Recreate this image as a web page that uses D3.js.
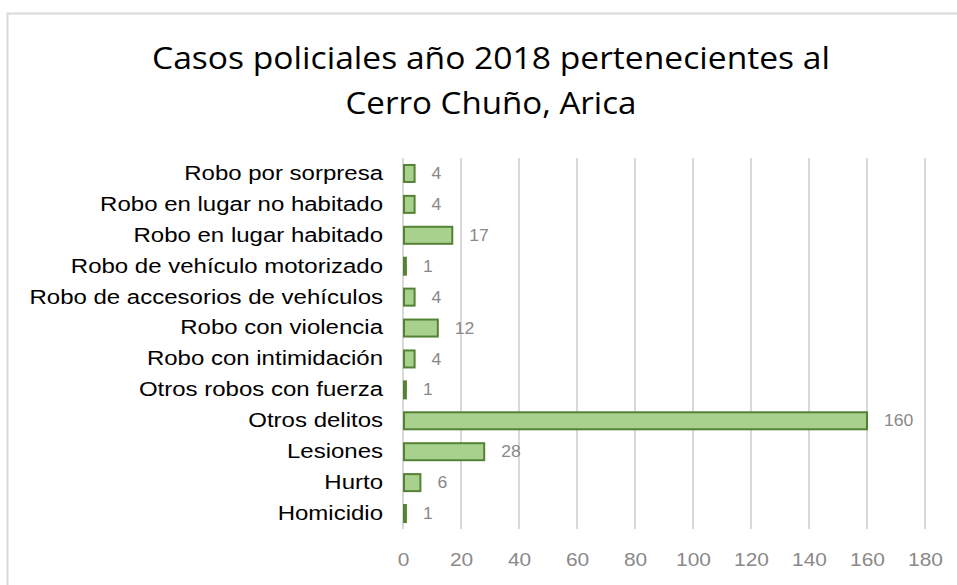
<!DOCTYPE html>
<html><head><meta charset="utf-8">
<script src="https://cdn.jsdelivr.net/npm/d3@7"></script>
<style>body{margin:0;background:#fff}svg{display:block}</style>
</head><body><svg id="c" width="957" height="585"></svg>
<script>
const categories = ["Robo por sorpresa","Robo en lugar no habitado","Robo en lugar habitado","Robo de vehículo motorizado","Robo de accesorios de vehículos","Robo con violencia","Robo con intimidación","Otros robos con fuerza","Otros delitos","Lesiones","Hurto","Homicidio"];
const values = [4,4,17,1,4,12,4,1,160,28,6,1];
const xTicks = [0,20,40,60,80,100,120,140,160,180];
const titleLines = ["Casos policiales año 2018 pertenecientes al","Cerro Chuño, Arica"];

const svg = d3.select("#c");
function stretch(sel, f){
  sel.each(function(){
    const w = this.getComputedTextLength();
    d3.select(this).attr("textLength", w*f).attr("lengthAdjust","spacingAndGlyphs");
  });
}
svg.append("rect").attr("x",7.5).attr("y",13.5).attr("width",960).attr("height",600)
  .attr("fill","#fff").attr("stroke","#d9d9d9").attr("stroke-width",2);

const x = d3.scaleLinear().domain([0,180]).range([403,925]);
const y = d3.scaleBand().domain(categories).range([158,529]).paddingInner(0.45).paddingOuter(0.225);

// gridlines
svg.append("g").selectAll("line").data(xTicks).join("line")
  .attr("x1",d=>x(d)).attr("x2",d=>x(d)).attr("y1",158).attr("y2",529)
  .attr("stroke","#d9d9d9").attr("stroke-width",2);

// x axis labels
const xa = svg.append("g").attr("transform","translate(0,529)")
  .call(d3.axisBottom(x).tickValues(xTicks).tickSize(0).tickPadding(24));
xa.select(".domain").remove();
xa.selectAll("text").attr("font-family","Liberation Sans, Arial, sans-serif").attr("font-size",19).attr("fill","#898989");
stretch(xa.selectAll("text"), 1.1);

// y axis labels
const ya = svg.append("g").attr("transform","translate(383,0)")
  .call(d3.axisLeft(y).tickSize(0).tickPadding(0));
ya.select(".domain").remove();
ya.selectAll("text").attr("font-family","Liberation Sans, Arial, sans-serif").attr("font-size",20).attr("fill","#000");
stretch(ya.selectAll("text"), 1.2);

// bars
svg.append("g").selectAll("rect").data(values).join("rect")
  .attr("x",x(0)+1).attr("y",(d,i)=>y(categories[i]))
  .attr("width",d=>x(d)-x(0)-1).attr("height",y.bandwidth())
  .attr("fill","#a9d18e").attr("stroke","#548235").attr("stroke-width",2);

// value labels
const vl = svg.append("g").selectAll("text").data(values).join("text")
  .attr("x",d=>x(d)+17).attr("y",(d,i)=>y(categories[i])+y.bandwidth()/2)
  .attr("dy","0.35em").attr("font-family","Liberation Sans, Arial, sans-serif")
  .attr("font-size",16).attr("fill","#898989").text(d=>d);
stretch(vl, 1.1);

// title
svg.append("g").selectAll("text").data(titleLines).join("text")
  .attr("x",491).attr("y",(d,i)=>69+i*45).attr("text-anchor","middle")
  .attr("font-family","Open Sans, sans-serif").attr("font-size",31).attr("fill","#000")
  .attr("textLength",(d,i)=>i===0?678:291).attr("lengthAdjust","spacingAndGlyphs")
  .text(d=>d);
</script></body></html>
